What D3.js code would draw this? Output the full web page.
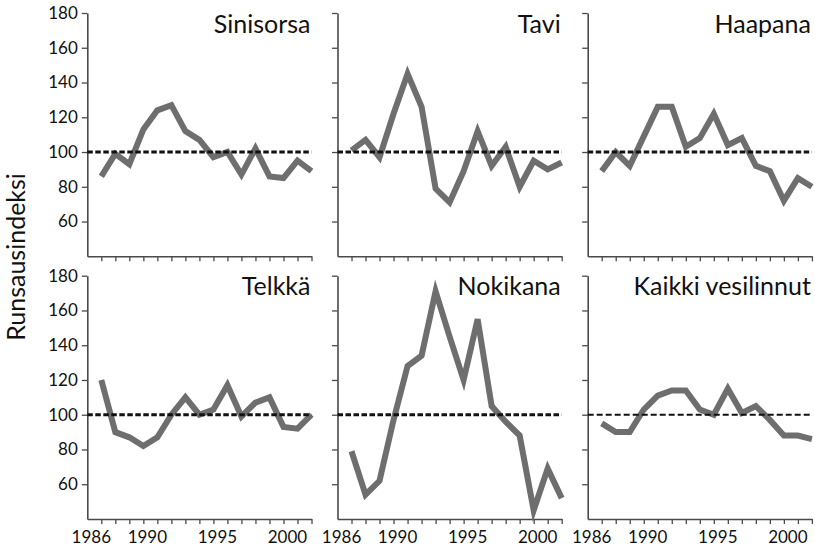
<!DOCTYPE html>
<html>
<head>
<meta charset="utf-8">
<script src="https://cdn.jsdelivr.net/npm/d3@7"></script>
<style>
  body { margin: 0; background: #fff; }
  svg { display: block; }
</style>
</head>
<body>
<svg id="chart"></svg>
<script>
// yearly abundance indices, 1986-2001
const years = [1986, 1987, 1988, 1989, 1990, 1991, 1992, 1993, 1994, 1995, 1996, 1997, 1998, 1999, 2000, 2001];
const yearLabels = [1986, 1990, 1995, 2000];
const indexTicks = [60, 80, 100, 120, 140, 160, 180];
const baseline = 100;

const titles = ["Sinisorsa", "Tavi", "Haapana", "Telkkä", "Nokikana", "Kaikki vesilinnut"];
const sinisorsa = [86, 99, 93, 113, 124, 127, 112, 107, 97, 100, 87, 102, 86, 85, 95, 89];
const tavi = [101, 107, 97, 122, 145, 126, 79, 71, 89, 112, 92, 103, 80, 95, 90, 94];
const haapana = [89, 100, 92, 109, 126, 126, 103, 108, 122, 104, 108, 92, 89, 72, 85, 80];
const telkka = [120, 90, 87, 82, 87, 100, 110, 100, 103, 117, 99, 107, 110, 93, 92, 100];
const nokikana = [79, 54, 62, 97, 128, 134, 171, 145, 120, 155, 105, 96, 88, 45, 69, 52];
const kaikki = [95, 90, 90, 103, 111, 114, 114, 103, 100, 115, 101, 105, 97, 88, 88, 86];
const series = [sinisorsa, tavi, haapana, telkka, nokikana, kaikki];

function draw_panels() {

  function translate(x, y) {
    return "translate(" + x + "," + y + ")";
  }

  const width = 815, height = 547;
  const left = 87.3, top = 13;
  const col_step = 250.2, row_step = 262.7;
  const panel_w = 224.2, panel_h = 243.3;
  const font = "Lato, 'Open Sans', sans-serif";
  const axis_color = "#4a4a4a";
  const line_color = "#6e6e6e";

  var svg = d3.select("svg#chart")
      .attr("width", width)
      .attr("height", height)
      .style("background-color", "#fff");

  var x = d3.scaleLinear().domain([1985, 2001]).range([0, panel_w]);
  var y = d3.scaleLinear().domain([40, 180]).range([panel_h, 0]);

  var line = d3.line()
      .x(function(d, i) { return x(years[i]); })
      .y(function(d) { return y(d); });

  // y axis title
  svg.append("text")
      .text("Runsausindeksi")
      .attr("transform", translate(25, 257) + " rotate(-90)")
      .attr("text-anchor", "middle")
      .style("font-family", font)
      .style("font-size", "25px")
      .style("fill", "#111");

  for (var i = 0; i < series.length; i++) {
    var col = i % 3;
    var row = Math.floor(i / 3);
    var panel = svg.append("g")
        .attr("transform", translate(left + col * col_step, top + row * row_step));

    // axes
    var yAxis = d3.axisLeft(y)
        .tickValues(indexTicks)
        .tickSize(5.5)
        .tickSizeOuter(0)
        .tickPadding(4);
    if (col > 0) yAxis.tickFormat("");
    var ya = panel.append("g").call(yAxis);

    var xAxis = d3.axisBottom(x)
        .tickValues(years)
        .tickSize(5)
        .tickSizeOuter(0)
        .tickFormat("");
    var xa = panel.append("g")
        .attr("transform", translate(0, panel_h))
        .call(xAxis);

    [ya, xa].forEach(function(a) {
      a.select(".domain").attr("stroke", axis_color).attr("stroke-width", 1.6);
      a.selectAll(".tick line").attr("stroke", axis_color).attr("stroke-width", 1.3);
      a.selectAll("text")
          .style("font-family", font)
          .style("font-size", "17px")
          .attr("fill", "#111");
    });

    // year labels on the bottom row sit a little left of their ticks
    if (row === 1) {
      panel.selectAll(".ylab")
          .data(yearLabels)
          .enter()
          .append("text")
          .attr("x", function(d) { return x(d) - 10; })
          .attr("y", panel_h + 24)
          .attr("text-anchor", "middle")
          .text(function(d) { return d; })
          .style("font-family", font)
          .style("font-size", "17px")
          .style("fill", "#111");
    }

    // index series
    panel.append("path")
        .datum(series[i])
        .attr("d", line)
        .style("fill", "none")
        .style("stroke", line_color)
        .style("stroke-width", 6)
        .style("stroke-linejoin", "miter");

    // reference level 100
    var thin = (i === 5);
    panel.append("line")
        .attr("x1", x(1985)).attr("x2", x(2001))
        .attr("y1", y(baseline)).attr("y2", y(baseline))
        .style("stroke", "#111")
        .style("stroke-width", thin ? 2 : 3)
        .style("stroke-dasharray", thin ? "6,3" : "5.5,2.5");

    panel.append("text")
        .text(titles[i])
        .attr("x", panel_w - 1)
        .attr("y", 19.5)
        .attr("text-anchor", "end")
        .style("font-family", font)
        .style("font-size", "25px")
        .style("fill", "#111");
  }
}

draw_panels();
</script>
</body>
</html>
